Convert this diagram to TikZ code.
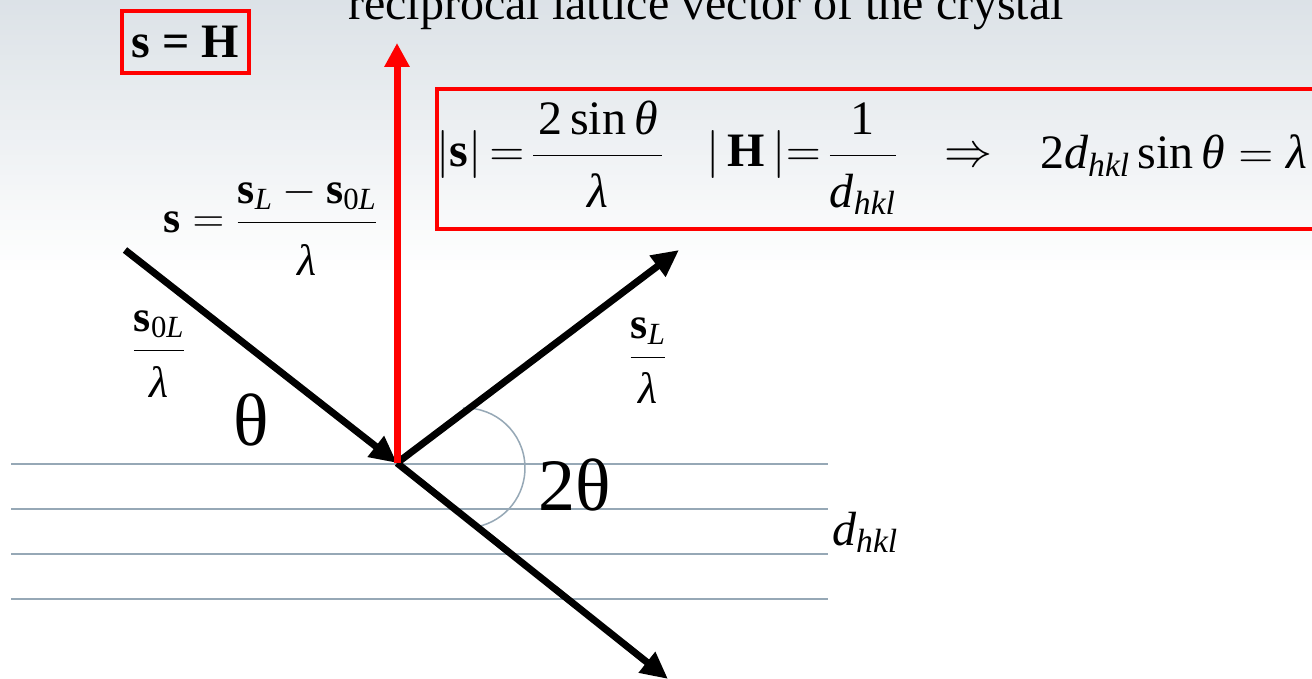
\RequirePackage{fix-cm}
\documentclass[tikz,border=0pt]{standalone}
\usepackage{amsmath}
\usepackage{fontspec}
\setmainfont{Liberation Serif}
\usetikzlibrary{arrows.meta,calc}
\definecolor{bgtop}{RGB}{220,226,231}
\definecolor{latt}{RGB}{150,168,182}
\definecolor{pptred}{RGB}{255,0,0}
\newcommand{\thet}{\text{\itshape θ}}
\newcommand{\lam}{\text{\itshape λ}}
\newcommand{\vs}{\text{\bfseries s}}
\newcommand{\vH}{\text{\bfseries H}}
\newcommand{\itx}[1]{\text{\itshape #1}}
\newcommand{\tx}[1]{\text{#1}}
\newcommand{\dhkl}{\text{\itshape d}_{\text{\itshape hkl}}}
\newcommand{\sn}{\text{sin}\,}
\newcommand{\dn}[2]{\raisebox{-#1em}{$#2$}}
\tikzset{
  beam/.style={line width=7pt,-{Triangle[length=27pt,width=25pt]}},
  recip/.style={draw=pptred,line width=7pt,-{Triangle[length=24pt,width=24pt]}},
  latline/.style={draw=latt,line width=2pt},
  anglearc/.style={draw=latt,line width=1.5pt},
  redbox/.style={draw=pptred,line width=4pt},
  lbl/.style={inner sep=0pt,font=\fontsize{44}{52}\selectfont},
  big/.style={inner sep=0pt,font=\fontsize{48}{58}\selectfont},
  greek/.style={inner sep=0pt,font=\fontsize{74}{88}\selectfont},
}
\begin{document}
\begin{tikzpicture}[x=1pt,y=-1pt]
\useasboundingbox (0,0) rectangle (1312,679);
\clip (0,0) rectangle (1312,679);
% background
\fill[white] (0,0) rectangle (1312,679);
\foreach \i in {0,...,53}{
  \pgfmathsetmacro\p{100-\i*100/54}
  \fill[bgtop!\p!white] (0,\i*5) rectangle (1312,\i*5+5.4);
}
% coordinates
\coordinate (O) at (397,463);
\coordinate (inc) at (125,250);
\coordinate (out) at (679,250);
\coordinate (down) at (668,679);
\coordinate (Htip) at (397,43);
\coordinate (arcC) at (465,468);
% lattice planes
\foreach \yy in {464,509,554,599}{
  \draw[latline] (11,\yy) -- (828,\yy);
}
% angle arc
\draw[anglearc] ($(arcC)+(-92:60)$) arc[start angle=-92,end angle=78,radius=60];
% beams
\draw[beam] (inc) -- (O);
\draw[beam] (O) -- (out);
\draw[beam] (O) -- (down);
% reciprocal lattice vector
\draw[recip] (O) -- (Htip);
% title
\node[big,anchor=base] (title) at (706,20) {reciprocal lattice vector of the crystal};
% s = H box
\node[redbox,minimum width=127pt,minimum height=62pt,inner sep=0pt,
      font=\fontsize{48}{58}\selectfont\bfseries] (sH) at (185.5,42) {s = H};
% formula box
\draw[redbox] (437,89) rectangle (1340,229);
\node[big,anchor=base west] (f1) at (436,167) {$\displaystyle \lvert\vs\rvert\,{=}\,\frac{\hspace{0.1em}\tx{2}\,\sn\thet\hspace{0.1em}}{\dn{0.15}{\lam}}$};
\node[big,anchor=base west] (f2) at (706,167) {$\displaystyle \lvert\,\vH\,\rvert{=}\,\frac{\tx{1}}{\dn{0.15}{\dhkl}}$};
\node[big,anchor=base west] (f3) at (944,167) {$\Rightarrow$};
\node[big,anchor=base west] (f4) at (1040,169) {$\tx{2}\dhkl\,\sn\thet=\lam$};
% labels
\node[lbl,anchor=base west] (sdef) at (163,233) {$\displaystyle \vs=\frac{\vs_{\itx{L}}-\vs_{\tx{0}\itx{L}}}{\dn{0.28}{\lam}}$};
\node[lbl,anchor=base] (s0) at (159,361) {$\displaystyle \frac{\vs_{\tx{0}\itx{L}}}{\dn{0.14}{\lam}}$};
\node[lbl,anchor=base] (sL) at (648,368) {$\displaystyle \frac{\vs_{\itx{L}}}{\dn{0.12}{\lam}}$};
\node[greek,anchor=base] (th) at (251,445) {θ};
\node[greek,anchor=base west] (tth) at (538,510) {2θ};
\node[big,anchor=base west] (dhkl) at (832,545) {$\dhkl$};
\end{tikzpicture}
\end{document}
